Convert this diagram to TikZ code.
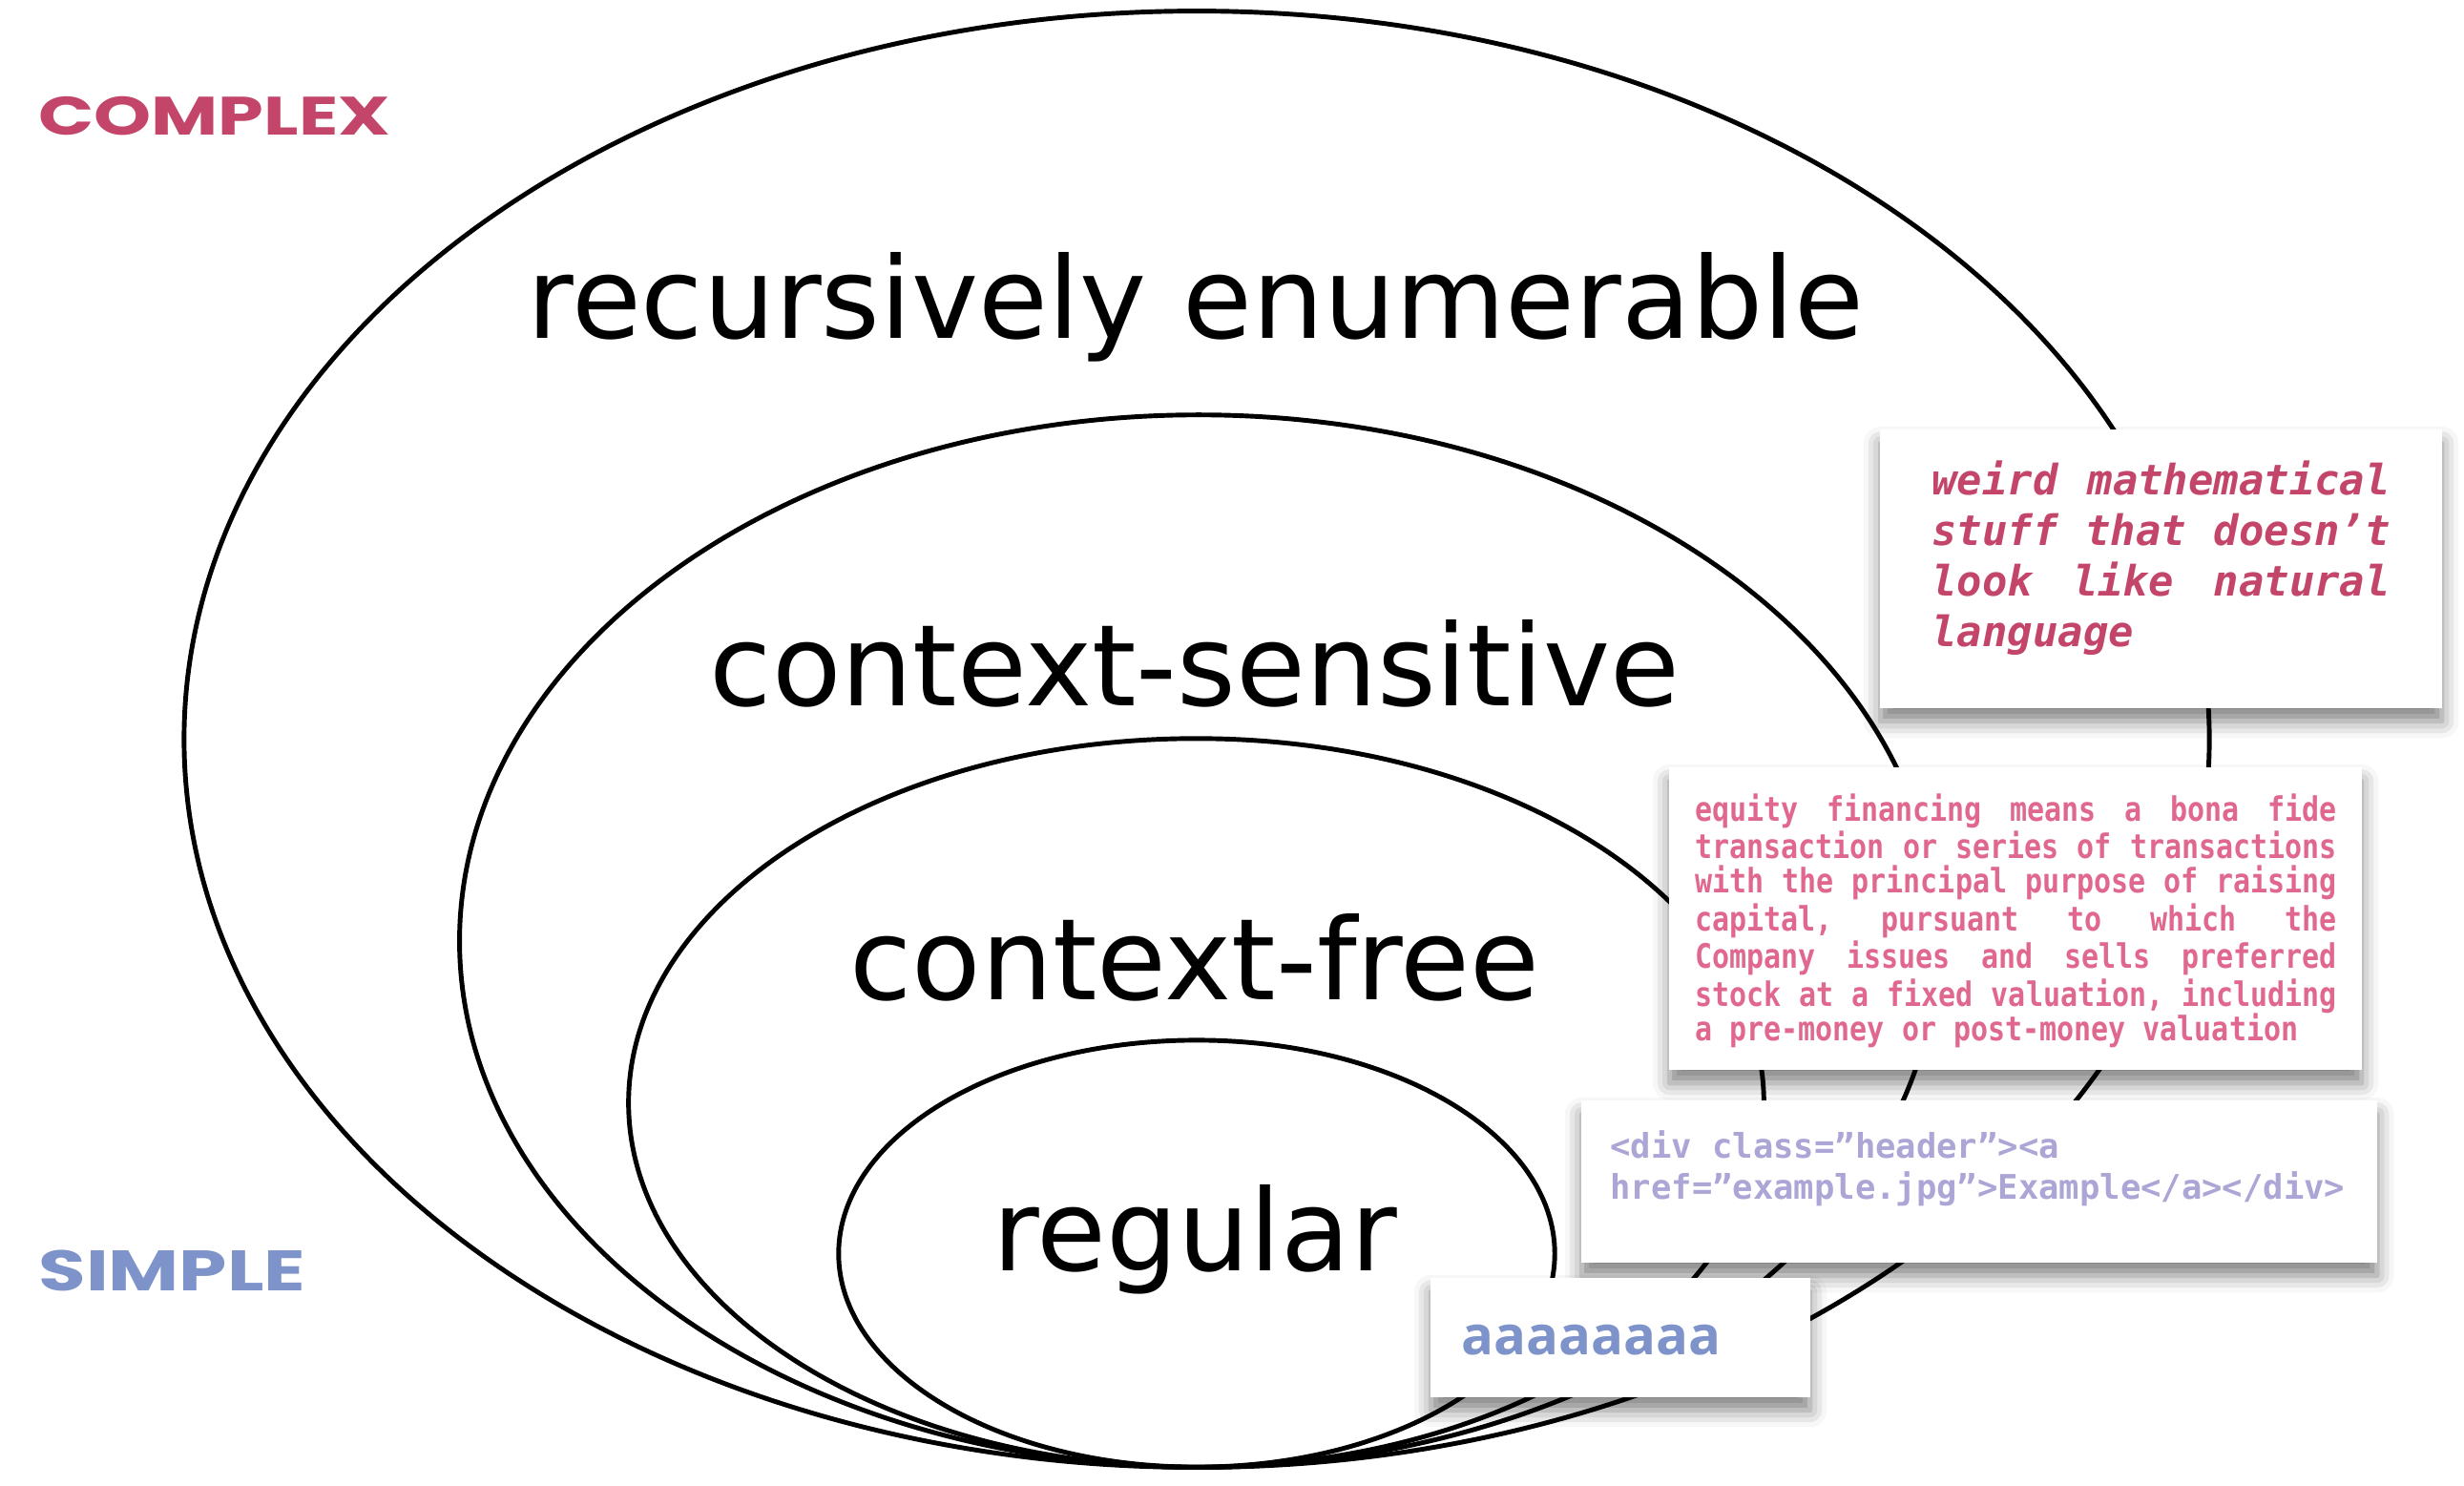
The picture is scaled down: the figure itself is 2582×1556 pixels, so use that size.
\documentclass[tikz,border=0pt]{standalone}
\usepackage{fontspec}
\setmainfont{DejaVu Sans}
\newfontfamily\widefont[FakeStretch=1.35]{Poppins}
\newfontfamily\codefont{DejaVu Sans Mono}
\newfontfamily\narrowcode[FakeStretch=0.85]{DejaVu Sans Mono}
\newfontfamily\roundfont{Open Sans}
\newcommand\msp{\phantom{a}}
\usepackage{tikz}
\usetikzlibrary{shadows.blur}
\definecolor{crimson}{RGB}{196,69,106}
\definecolor{rosy}{RGB}{224,104,143}
\definecolor{lilac}{RGB}{171,166,214}
\definecolor{slate}{RGB}{125,147,201}

\begin{document}
\begin{tikzpicture}[x=0.01cm,y=-0.01cm,line width=1.4pt]
\tikzset{lang/.style={font=\fontsize{33.7}{40}\selectfont,anchor=base,inner sep=0pt},
  side/.style={anchor=base west,inner sep=0pt},
  card/.style={fill=white,anchor=north west,inner sep=0pt,
    blur shadow={shadow xshift=0pt,shadow yshift=-4pt,shadow blur radius=5pt,shadow opacity=50}},
  cardtxt/.style={anchor=base west,inner sep=0pt,align=left}}
\useasboundingbox (0,0) rectangle (2582,1556);
% nested language classes
\draw (1254,774.5) ellipse [x radius=10.605cm,y radius=7.625cm];
\draw (1256,986) ellipse [x radius=7.74cm,y radius=5.51cm];
\draw (1253.5,1155.5) ellipse [x radius=5.945cm,y radius=3.815cm];
\draw (1254,1313.5) ellipse [x radius=3.75cm,y radius=2.235cm];
\node[lang] (re) at (1253,354) {recursively enumerable};
\node[lang] (cs) at (1252,739) {context-sensitive};
\node[lang] (cf) at (1252,1047) {context-free};
\node[lang] (reg) at (1252,1331) {regular};
% scale on the left
\node[side,text=crimson,font=\widefont\bfseries\fontsize{16.1}{20}\selectfont] (complex) at (38,141) {COMPLEX};
\node[side,text=slate,font=\widefont\bfseries\fontsize{17}{20}\selectfont] (simple) at (38,1352) {SIMPLE};
% example cards
\node[card,minimum width=5.88cm,minimum height=2.91cm] (weird) at (1968,448) {};
\node[card,minimum width=7.25cm,minimum height=3.16cm] (legal) at (1747,802) {};
\node[card,minimum width=8.33cm,minimum height=1.69cm] (html) at (1655,1151) {};
\node[card,minimum width=3.97cm,minimum height=1.24cm] (reps) at (1497,1337) {};
\node[cardtxt,text=crimson,text width=4.8cm,font=\codefont\bfseries\itshape\fontsize{12.48}{15.1}\selectfont] (weirdtxt) at (2022,518)
  {weird\hfill mathematical\\stuff\hfill that\hfill doesn’t\\look\hfill like\hfill natural\\language};
\node[cardtxt,text=rosy,text width=6.72cm,font=\narrowcode\bfseries\fontsize{10.03}{10.24}\selectfont] (legaltxt) at (1774,860)
  {equity\hfill financing\hfill means\hfill a\hfill bona\hfill fide\\
   transaction\hfill or\hfill series\hfill of\hfill transactions\\
   with\hfill the\hfill principal\hfill purpose\hfill of\hfill raising\\
   capital,\hfill pursuant\hfill to\hfill which\hfill the\\
   Company\hfill issues\hfill and\hfill sells\hfill preferred\\
   stock\hfill at\hfill a\hfill fixed\hfill valuation,\hfill including\\
   a\msp pre-money\msp or\msp post-money\msp valuation};
\node[cardtxt,text=lilac,text width=8cm,font=\codefont\bfseries\fontsize{10.1}{12.5}\selectfont] (htmltxt) at (1685,1213)
  {<div\msp class=”header”><a\\href=”example.jpg”>Example</a></div>};
\node[cardtxt,text=slate,font=\roundfont\bfseries\fontsize{16}{19}\selectfont] (repstxt) at (1529,1419) {aaaaaaaa};
\end{tikzpicture}
\end{document}
